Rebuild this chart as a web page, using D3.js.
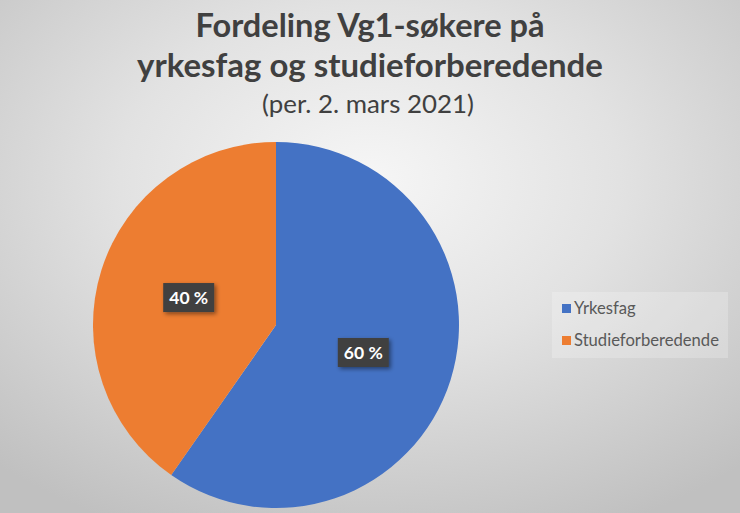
<!DOCTYPE html>
<html>
<head>
<meta charset="utf-8">
<script src="https://cdn.jsdelivr.net/npm/d3@7"></script>
<style>
  body { margin: 0; }
  svg { display: block; }
</style>
</head>
<body>
<div id="chart-area"></div>
<script>
var w = 740;
var h = 513;

// data
const categories = ["Yrkesfag", "Studieforberedende"];
const shares = [59.7, 40.3];
const colors = ["#4472C4", "#ED7D31"];
const titleLines = ["Fordeling Vg1-søkere på", "yrkesfag og studieforberedende"];
const subtitle = "(per. 2. mars 2021)";

var cx = 276, cy = 325, r = 183;

var svg = d3.select("#chart-area").append("svg")
    .attr("width", w)
    .attr("height", h);

var defs = svg.append("defs");

var grad = defs.append("radialGradient")
    .attr("id", "bg")
    .attr("cx", "50%").attr("cy", "35%").attr("r", "75%");
grad.append("stop").attr("offset", "0%").attr("stop-color", "#f6f6f6");
grad.append("stop").attr("offset", "45%").attr("stop-color", "#e2e2e2");
grad.append("stop").attr("offset", "100%").attr("stop-color", "#c0c0c0");

var shadow = defs.append("filter").attr("id", "shadow")
    .attr("x", "-30%").attr("y", "-30%").attr("width", "170%").attr("height", "170%");
shadow.append("feDropShadow")
    .attr("dx", 2).attr("dy", 2).attr("stdDeviation", 2)
    .attr("flood-color", "#000").attr("flood-opacity", 0.45);

svg.append("rect")
    .attr("width", w).attr("height", h)
    .attr("fill", "url(#bg)");

// fit a text element to a target width by scaling its font size
function fit(sel, target) {
    var fs = parseFloat(sel.attr("font-size"));
    var len = sel.node().getComputedTextLength();
    sel.attr("font-size", fs * target / len);
}

// title
var titleFont = "Lato, 'Open Sans', sans-serif";
var t1 = svg.append("text")
    .attr("x", 370).attr("y", 37)
    .attr("text-anchor", "middle")
    .attr("font-family", titleFont)
    .attr("font-weight", "bold")
    .attr("font-size", 30)
    .attr("fill", "#404040")
    .text(titleLines[0]);
fit(t1, 349);

var t2 = svg.append("text")
    .attr("x", 370).attr("y", 77)
    .attr("text-anchor", "middle")
    .attr("font-family", titleFont)
    .attr("font-weight", "bold")
    .attr("font-size", 30)
    .attr("fill", "#404040")
    .text(titleLines[1]);
fit(t2, 466);

var st = svg.append("text")
    .attr("x", 368).attr("y", 113)
    .attr("text-anchor", "middle")
    .attr("font-family", titleFont)
    .attr("font-size", 22)
    .attr("fill", "#404040")
    .text(subtitle);
fit(st, 212);

// pie
var pie = d3.pie().sort(null).value(d => d.value);
var arc = d3.arc().innerRadius(0).outerRadius(r);

var data = categories.map((c, i) => ({ name: c, value: shares[i], color: colors[i] }));
var arcs = pie(data);

var g = svg.append("g")
    .attr("transform", "translate(" + cx + "," + cy + ")");

g.selectAll("path")
    .data(arcs)
    .enter().append("path")
    .attr("d", arc)
    .attr("fill", d => d.data.color);

var fmt = d3.format(".0f");
var labels = g.selectAll("g.lbl")
    .data(arcs)
    .enter().append("g")
    .attr("class", "lbl")
    .attr("transform", d => "translate(" + arc.centroid(d) + ")");

labels.append("rect")
    .attr("x", -25.5).attr("y", -14.5)
    .attr("width", 51).attr("height", 29)
    .attr("fill", "#404040")
    .attr("filter", "url(#shadow)");

labels.append("text")
    .attr("text-anchor", "middle")
    .attr("dy", "0.36em")
    .attr("font-family", titleFont)
    .attr("font-weight", "bold")
    .attr("font-size", 17.5)
    .attr("fill", "#ffffff")
    .text(d => fmt(d.data.value) + " %");

// legend
var legend = svg.append("g");
legend.append("rect")
    .attr("x", 552).attr("y", 292)
    .attr("width", 176).attr("height", 66)
    .attr("fill", "#ffffff")
    .attr("fill-opacity", 0.22);

var items = legend.selectAll("g.item")
    .data(data)
    .enter().append("g")
    .attr("class", "item")
    .attr("transform", (d, i) => "translate(562," + (304 + i * 32) + ")");

items.append("rect")
    .attr("width", 9).attr("height", 9)
    .attr("fill", d => d.color);

items.append("text")
    .attr("x", 12).attr("y", 10)
    .attr("font-family", titleFont)
    .attr("font-size", 15)
    .attr("fill", "#595959")
    .text(d => d.name);

var lt = items.filter((d, i) => i === 1).select("text");
var ratio = 145 / lt.node().getComputedTextLength();
items.selectAll("text").attr("font-size", 15 * ratio);
</script>
</body>
</html>
